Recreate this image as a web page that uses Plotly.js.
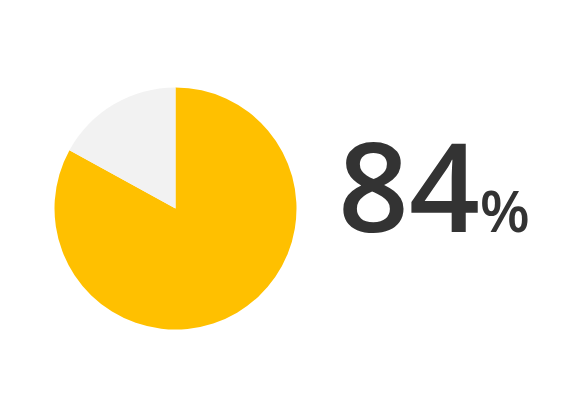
<!DOCTYPE html>
<html>
<head>
<meta charset="utf-8">
<script src="https://cdn.plot.ly/plotly-3.0.1.min.js"></script>
<style>
  html, body { margin: 0; padding: 0; background: #fff; }
  #chart { width: 580px; height: 410px; }
</style>
</head>
<body>
<div id="chart"></div>
<script>
/* ─── Single-share pie with big percentage ─── */

const labels = ['Share', 'Rest'];
const values = [83, 17];
const colors = ['#FFC000', '#F2F2F2'];
const shareText = '84';

const trace = {
    type: 'pie',
    labels: labels,
    values: values,
    sort: false,
    direction: 'clockwise',
    rotation: 0,
    textinfo: 'none',
    hoverinfo: 'none',
    marker: { colors: colors, line: { width: 0 } },
    domain: { x: [54.5 / 580, 296.5 / 580], y: [80.5 / 410, 322.5 / 410] },
    showlegend: false,
};

const layout = {
    width: 580,
    height: 410,
    margin: { t: 0, r: 0, b: 0, l: 0 },
    paper_bgcolor: '#ffffff',
    plot_bgcolor: '#ffffff',
    font: { family: '"Open Sans", "Noto Sans", sans-serif', color: '#333333' },
    annotations: [{
        xref: 'paper', yref: 'paper',
        x: 336 / 580, y: 1 - 184 / 410,
        xanchor: 'left', yanchor: 'middle',
        showarrow: false,
        text: shareText + '<span style="font-size:58px">%</span>',
        font: { size: 124, weight: 600, color: '#333333', family: '"Open Sans", sans-serif' },
    }],
};

Plotly.newPlot('chart', [trace], layout, { staticPlot: true, displayModeBar: false });
</script>
</body>
</html>
